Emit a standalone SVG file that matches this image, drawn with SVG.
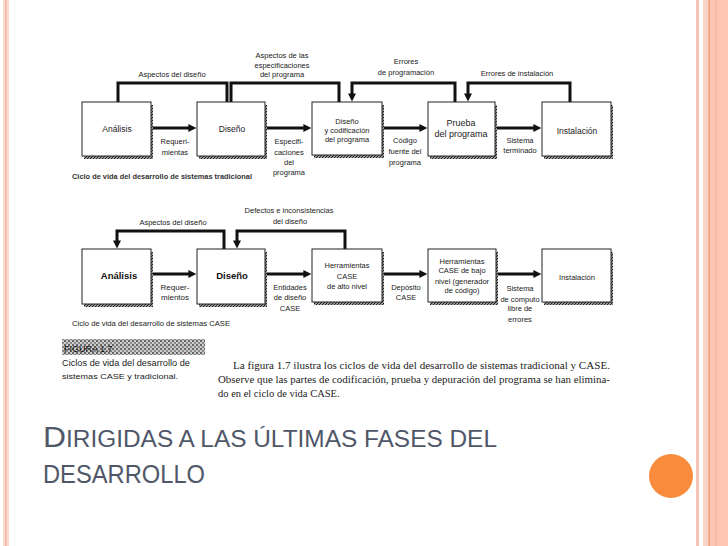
<svg xmlns="http://www.w3.org/2000/svg" width="728" height="546" viewBox="0 0 728 546">
<style>
.t{font-family:"Liberation Sans",Arial,sans-serif;font-size:7.5px;fill:#222;text-anchor:middle}
.bl{font-size:8.5px}
.bb{font-size:9.5px;font-weight:bold;fill:#111}
.cap{font-family:"Liberation Sans",Arial,sans-serif;font-size:7.5px;fill:#222}
.ser{font-family:"Liberation Serif","Times New Roman",serif;font-size:10.5px;fill:#222}
.box{fill:#fff;stroke:#222;stroke-width:1}
.sh{fill:url(#hatch)}
.c{fill:none;stroke:#111;stroke-width:3}
.ttl{font-family:"Liberation Sans",Arial,sans-serif;fill:#4f5768}
</style>
<defs>
<pattern id="hatch" width="3" height="3" patternUnits="userSpaceOnUse"><rect width="3" height="3" fill="#999"/><path d="M0,3 L3,0" stroke="#222" stroke-width="1"/></pattern>
<pattern id="fig" width="4" height="4" patternUnits="userSpaceOnUse"><rect width="4" height="4" fill="#ccc"/><rect width="2" height="2" fill="#666"/><rect x="2" y="2" width="2" height="2" fill="#888"/></pattern>
<marker id="ah" viewBox="0 0 10 10" refX="2" refY="5" markerWidth="9" markerHeight="8" markerUnits="userSpaceOnUse" orient="auto"><path d="M0,0 L10,5 L0,10 z" fill="#111"/></marker>
</defs>
<rect width="728" height="546" fill="#fff"/>
<g id="frame">
<rect x="3" y="0" width="6" height="546" fill="#fbd9cf"/>
<rect x="5" y="0" width="2" height="546" fill="#f5bfae"/>
<rect x="696" y="0" width="3" height="546" fill="#f3c4b7"/>
<rect x="703" y="0" width="6" height="546" fill="#fbd3c6"/>
<rect x="709" y="0" width="19" height="546" fill="#fdc6b2"/>
<rect x="708.5" y="0" width="1.2" height="546" fill="#e8956a"/>
<rect x="715" y="0" width="1.8" height="546" fill="#f7b9a4"/>
</g>
<g id="connectors">
<path class="c" d="M151,128 H190" marker-end="url(#ah)"/>
<path class="c" d="M265,128 H305" marker-end="url(#ah)"/>
<path class="c" d="M382,128 H421" marker-end="url(#ah)"/>
<path class="c" d="M495,128 H535" marker-end="url(#ah)"/>
<path class="c" d="M227,102 V83 H118 V102"/>
<path class="c" d="M339,102 V83 H231 V102"/>
<path class="c" d="M455,102 V83 H352 V95" marker-end="url(#ah)"/>
<path class="c" d="M570,102 V83 H468 V95" marker-end="url(#ah)"/>
<path class="c" d="M151,274 H190" marker-end="url(#ah)"/>
<path class="c" d="M265,274 H305" marker-end="url(#ah)"/>
<path class="c" d="M382,274 H421" marker-end="url(#ah)"/>
<path class="c" d="M496,274 H535" marker-end="url(#ah)"/>
<path class="c" d="M224,249 V231 H117 V242" marker-end="url(#ah)"/>
<path class="c" d="M345,249 V231 H237 V242" marker-end="url(#ah)"/>
</g>
<g id="n-analisis1"><rect class="sh" x="84" y="105" width="69" height="54"/><rect class="box" x="82" y="102" width="69" height="54"/><text class="t bl" x="117" y="131.5">Análisis</text></g>
<g id="n-diseno1"><rect class="sh" x="199" y="105" width="68" height="54"/><rect class="box" x="197" y="102" width="68" height="54"/><text class="t bl" x="232" y="131.5">Diseño</text></g>
<g id="n-codif1"><rect class="sh" x="314" y="105" width="70" height="53"/><rect class="box" x="312" y="102" width="70" height="53"/><text class="t" x="347" y="123.5">Diseño</text><text class="t" x="347" y="132.5">y codificación</text><text class="t" x="347" y="141.5">del programa</text></g>
<g id="n-prueba1"><rect class="sh" x="430" y="105" width="67" height="54"/><rect class="box" x="428" y="102" width="67" height="54"/><text class="t" x="461" y="126" style="font-size:9px">Prueba</text><text class="t" x="461" y="136.5" style="font-size:9px">del programa</text></g>
<g id="n-instal1"><rect class="sh" x="544" y="105" width="69" height="54"/><rect class="box" x="542" y="102" width="69" height="54"/><text class="t bl" x="577" y="133.5">Instalación</text></g>
<g id="labels-top">
<text class="t" x="172" y="76.5">Aspectos del diseño</text>
<text class="t" x="282" y="57.5">Aspectos de las</text>
<text class="t" x="282" y="67.5">especificaciones</text>
<text class="t" x="282" y="77">del programa</text>
<text class="t" x="406" y="63.5">Errores</text>
<text class="t" x="406" y="74.5">de programación</text>
<text class="t" x="517" y="75.5">Errores de instalación</text>
<text class="t" x="175" y="143.5">Requeri-</text>
<text class="t" x="175" y="154.5">mientas</text>
<text class="t" x="289" y="143.5">Especifi-</text>
<text class="t" x="289" y="154.5">caciones</text>
<text class="t" x="289" y="164.5">del</text>
<text class="t" x="289" y="174.5">programa</text>
<text class="t" x="405" y="142.5">Código</text>
<text class="t" x="405" y="153.5">fuente del</text>
<text class="t" x="405" y="164.5">programa</text>
<text class="t" x="520" y="142.5">Sistema</text>
<text class="t" x="520" y="152.5">terminado</text>
<text class="cap" x="72" y="178.5" textLength="180" lengthAdjust="spacingAndGlyphs" style="font-weight:bold;fill:#333">Ciclo de vida del desarrollo de sistemas tradicional</text>
</g>
<g id="n-analisis2"><rect class="sh" x="84" y="252" width="69" height="55"/><rect class="box" x="82" y="249" width="69" height="55"/><text class="t bb" x="119" y="279">Análisis</text></g>
<g id="n-diseno2"><rect class="sh" x="199" y="252" width="68" height="55"/><rect class="box" x="197" y="249" width="68" height="55"/><text class="t bb" x="232" y="279">Diseño</text></g>
<g id="n-herr-alto"><rect class="sh" x="314" y="252" width="70" height="53"/><rect class="box" x="312" y="249" width="70" height="53"/><text class="t" x="347" y="268">Herramientas</text><text class="t" x="347" y="278.5">CASE</text><text class="t" x="347" y="289">de alto nivel</text></g>
<g id="n-herr-bajo"><rect class="sh" x="430" y="252" width="68" height="53"/><rect class="box" x="428" y="249" width="68" height="53"/><text class="t" x="462" y="263.5">Herramientas</text><text class="t" x="462" y="272.5">CASE de bajo</text><text class="t" x="462" y="283.5">nivel (generador</text><text class="t" x="462" y="292.5">de código)</text></g>
<g id="n-instal2"><rect class="sh" x="544" y="252" width="69" height="53"/><rect class="box" x="542" y="249" width="69" height="53"/><text class="t" x="577" y="279.5">Instalación</text></g>
<g id="labels-bottom">
<text class="t" x="173" y="224.5">Aspectos del diseño</text>
<text class="t" x="289" y="212.5">Defectos e inconsistencias</text>
<text class="t" x="290" y="223.5">del diseño</text>
<text class="t" x="175" y="289.5" style="font-size:8px">Requer-</text>
<text class="t" x="175" y="299.5" style="font-size:8px">mientos</text>
<text class="t" x="290" y="289.5">Entidades</text>
<text class="t" x="290" y="299.5">de diseño</text>
<text class="t" x="290" y="310.5">CASE</text>
<text class="t" x="406" y="289.5">Depósito</text>
<text class="t" x="406" y="299.5">CASE</text>
<text class="t" x="520" y="290.5">Sistema</text>
<text class="t" x="520" y="301.5">de cómputo</text>
<text class="t" x="520" y="310.5">libre de</text>
<text class="t" x="520" y="321.5">errores</text>
<text class="cap" x="72" y="325.5" textLength="158" lengthAdjust="spacingAndGlyphs">Ciclo de vida del desarrollo de sistemas CASE</text>
</g>
<g id="figure-caption">
<rect x="62" y="339" width="143" height="16" fill="url(#fig)"/>
<text class="cap" x="64" y="352" style="font-size:9px;fill:#111">FIGURA 1.7</text>
<text class="cap" x="62" y="366" textLength="128" lengthAdjust="spacingAndGlyphs" style="font-size:8.5px">Ciclos de vida del desarrollo de</text>
<text class="cap" x="62" y="379" textLength="116" lengthAdjust="spacingAndGlyphs" style="font-size:8px">sistemas CASE y tradicional.</text>
</g>
<g id="paragraph">
<text class="ser" x="233" y="369" textLength="377" lengthAdjust="spacingAndGlyphs">La figura 1.7 ilustra los ciclos de vida del desarrollo de sistemas tradicional y CASE.</text>
<text class="ser" x="218" y="383" textLength="392" lengthAdjust="spacingAndGlyphs">Observe que las partes de codificación, prueba y depuración del programa se han elimina-</text>
<text class="ser" x="218" y="397">do en el ciclo de vida CASE.</text>
</g>
<g id="title">
<text class="ttl" x="43" y="447" textLength="454" lengthAdjust="spacingAndGlyphs"><tspan style="font-size:30px">D</tspan><tspan style="font-size:23px">IRIGIDAS A LAS ÚLTIMAS FASES DEL</tspan></text>
<text class="ttl" x="43" y="483" textLength="162" lengthAdjust="spacingAndGlyphs" style="font-size:25px">DESARROLLO</text>
</g>
<circle id="dot" cx="671" cy="476" r="22" fill="#f98b3c"/>
</svg>
